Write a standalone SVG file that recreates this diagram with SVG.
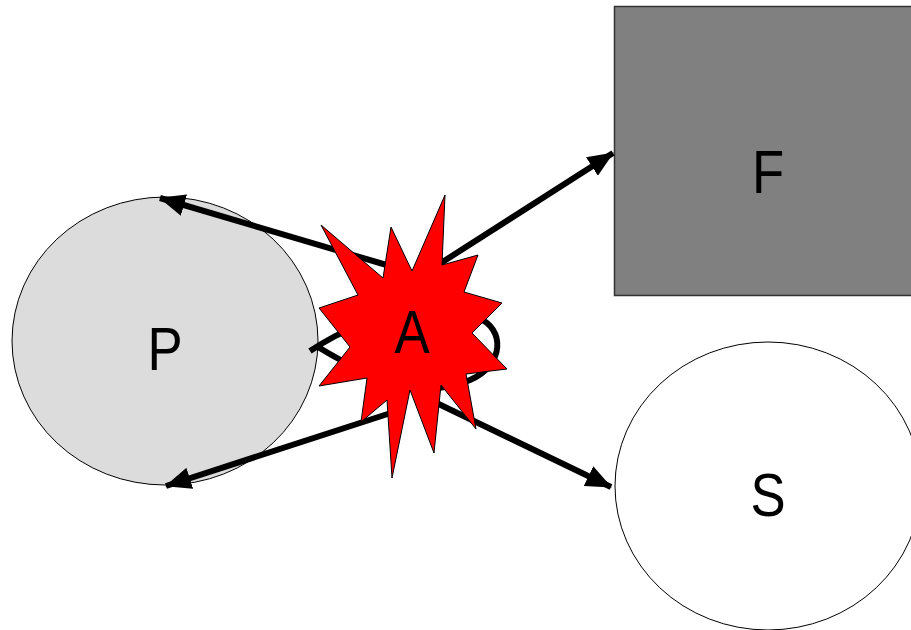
<svg xmlns="http://www.w3.org/2000/svg" width="911" height="630" viewBox="0 0 911 630">
<defs>
<style>
.lbl{font-family:"Liberation Sans",Arial,sans-serif;font-size:62px;fill:#000;text-anchor:middle}
.edge{fill:none;stroke:#000;stroke-width:6}
</style>
<marker id="ah" viewBox="0 0 26 22" refX="25" refY="11" markerWidth="26" markerHeight="22" markerUnits="userSpaceOnUse" orient="auto">
<path d="M0,0 L26,11 L0,22 Z" fill="#000"/>
</marker>
</defs>
<rect width="911" height="630" fill="#fff"/>
<g id="P">
<ellipse cx="165" cy="341" rx="153" ry="144" fill="#dcdcdc" stroke="#000" stroke-width="1"/>
<text class="lbl" x="165" y="370" transform="translate(165 0) scale(0.85 1) translate(-165 0)">P</text>
</g>
<g id="F">
<rect x="614.5" y="6.5" width="300" height="289" fill="#808080" stroke="#333" stroke-width="1.5"/>
<text class="lbl" x="768" y="193" transform="translate(768 0) scale(0.85 1) translate(-768 0)">F</text>
</g>
<g id="S">
<ellipse cx="768" cy="486" rx="153" ry="144" fill="#fff" stroke="#000" stroke-width="1"/>
<text class="lbl" x="768" y="516" transform="translate(768 0) scale(0.85 1) translate(-768 0)">S</text>
</g>
<g id="connectors">
<path class="edge" d="M390,266 L160,198" marker-end="url(#ah)"/>
<path class="edge" d="M400,410 L166,486" marker-end="url(#ah)"/>
<path class="edge" d="M430,270 L613,153" marker-end="url(#ah)"/>
<path class="edge" d="M420,395 L611,487" marker-end="url(#ah)"/>
<path class="edge" d="M310,351 C380,305 440,305 478,318 C505,328 505,365 470,380 C430,398 380,385 318,347"/>
</g>
<g id="A">
<polygon points="445,195 442,265 478,255 464,292 502,303 472,333 507,369 466,374 476,429 441,385 434,453 410,390 392,478 387,400 361,422 367,378 319,386 350,347 319,308 358,295 321,225 383,278 391,227 412,271" fill="#f00" stroke="#000" stroke-width="1"/>
<text class="lbl" x="412" y="353" transform="translate(412 0) scale(0.85 1) translate(-412 0)">A</text>
</g>
</svg>
